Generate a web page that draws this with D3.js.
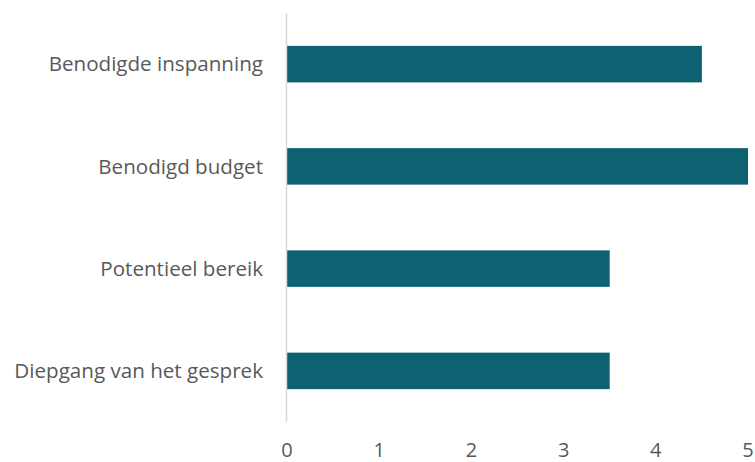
<!DOCTYPE html>
<html>
<head>
<meta charset="utf-8">
<script src="https://cdn.jsdelivr.net/npm/d3@7"></script>
<style>
  body { margin: 0; background: #fff; }
  text { font-family: "Open Sans", sans-serif; fill: #595959; }
</style>
</head>
<body>
<div id="chart"></div>
<script>
// data
const categories = ["Benodigde inspanning", "Benodigd budget", "Potentieel bereik", "Diepgang van het gesprek"];
const values = [4.5, 5, 3.5, 3.5];
const xTicks = [0, 1, 2, 3, 4, 5];

const W = 755, H = 462;
const margin = {top: 13, right: 7, bottom: 40, left: 287};
const width = W - margin.left - margin.right,
    height = H - margin.top - margin.bottom;

const svg = d3.select("#chart")
    .append("svg")
    .attr("width", W)
    .attr("height", H)
    .append("g")
    .attr("transform", `translate(${margin.left}, ${margin.top})`);

const x = d3.scaleLinear()
    .domain([0, 5])
    .range([0, width]);

const y = d3.scaleBand()
    .domain(categories)
    .range([0, height])
    .paddingInner(0.643)
    .paddingOuter(0.3215);

// bars
svg.append("g")
    .selectAll("rect")
    .data(categories)
    .enter()
    .append("rect")
    .attr("x", 0)
    .attr("y", d => y(d))
    .attr("width", (d, i) => x(values[i]))
    .attr("height", y.bandwidth())
    .attr("fill", "#0e6170");

// vertical axis line
svg.append("line")
    .attr("x1", -0.5)
    .attr("x2", -0.5)
    .attr("y1", 0)
    .attr("y2", height)
    .attr("stroke", "#d9d9d9")
    .attr("stroke-width", 1.5);

// category labels
svg.append("g")
    .selectAll("text")
    .data(categories)
    .enter()
    .append("text")
    .attr("x", -24)
    .attr("y", d => y(d) + y.bandwidth() / 2)
    .attr("dy", "0.35em")
    .attr("text-anchor", "end")
    .style("font-size", "20.6px")
    .text(d => d);

// x tick labels
svg.append("g")
    .selectAll("text")
    .data(xTicks)
    .enter()
    .append("text")
    .attr("x", d => x(d))
    .attr("y", height + 35)
    .attr("text-anchor", "middle")
    .style("font-size", "20px")
    .text(d => d);
</script>
</body>
</html>
